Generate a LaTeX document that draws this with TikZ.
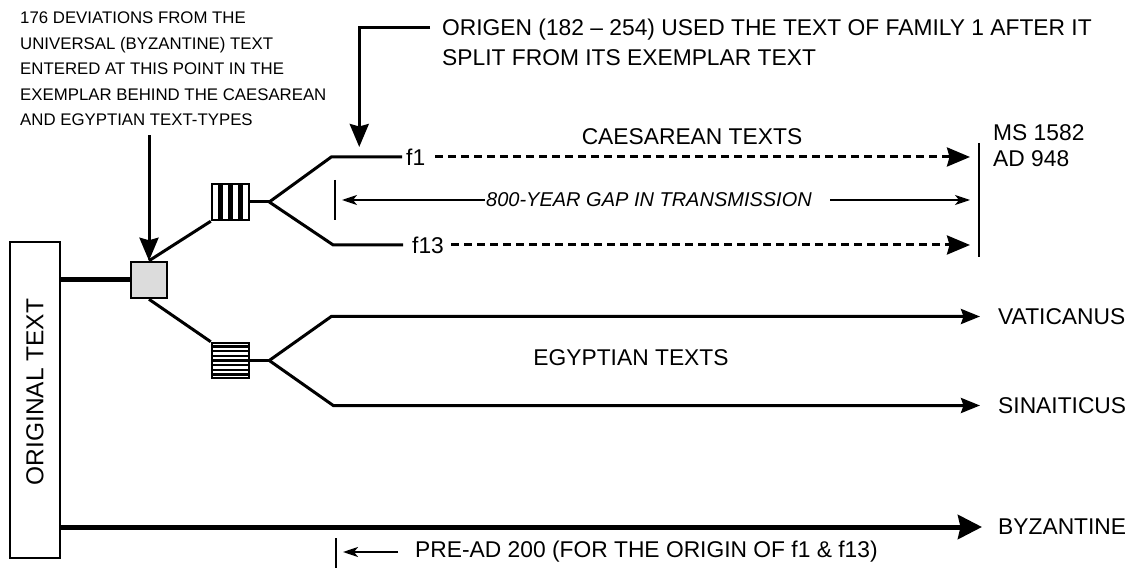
\documentclass[tikz,border=0pt]{standalone}
\usepackage{fontspec}
\setmainfont{Liberation Sans}
\usepackage{tikz}
\usetikzlibrary{arrows.meta,positioning,calc}
\definecolor{boxgrey}{HTML}{DCDCDC}

\begin{document}
\begin{tikzpicture}[x=1pt, y=-1pt,
  lbl/.style={font=\fontsize{22.8}{26}\selectfont, inner sep=0pt},
  note/.style={font=\fontsize{16.8}{25.5}\selectfont, inner sep=0pt, align=left},
  branch/.style={line width=3pt},
  trunk/.style={line width=5pt},
  dashline/.style={line width=3pt, dash pattern=on 8pt off 5pt},
  gapline/.style={line width=1.2pt},
  bigtip/.style={-{Stealth[length=23pt,width=19pt,inset=2.5pt]}},
  midtip/.style={-{Stealth[length=19pt,width=15pt,inset=2.5pt]}},
  bytip/.style={-{Stealth[length=24pt,width=24pt,inset=2.5pt]}},
  smalltip/.style={-{Stealth[length=15pt,width=10pt,inset=4pt]}},
  stripebox/.style={draw, fill=white, line width=2.5pt, minimum width=37pt, inner sep=0pt}]
\useasboundingbox (0,0) rectangle (1130,569);

% ---- original text, the exemplar and the two striped text-type boxes ----
\node[draw, line width=2.5pt, rotate=90, minimum width=316pt, minimum height=50pt,
  inner sep=0pt, font=\fontsize{24.5}{28}\selectfont] (orig) at (35,400) {\hspace*{16pt}ORIGINAL TEXT};
\node[draw, fill=boxgrey, line width=2.5pt, minimum size=36pt, inner sep=0pt] (exem) at (149,280) {};
\node[stripebox, minimum height=36pt] (caes) at (230.5,202) {};
\node[stripebox, minimum height=35pt] (egyp) at (230.5,360.5) {};
\foreach \k in {1,2,3}
  \draw[line width=4.5pt] ($(caes.south west)!\k/4!(caes.south east)$) -- ($(caes.north west)!\k/4!(caes.north east)$);
\foreach \k in {1,...,7}
  \draw[line width=2.5pt] ($(egyp.north west)!\k/8!(egyp.south west)$) -- ($(egyp.north east)!\k/8!(egyp.south east)$);

\draw[trunk] (orig.south |- exem.west) -- (exem.west);
\draw[branch] (exem.north) -- (caes.south west);
\draw[branch] (exem.south) -- (egyp.north west);
\coordinate[right=19pt of caes.east] (cfork);
\coordinate[right=19pt of egyp.east] (efork);
\draw[branch] (caes.east) -- (cfork);
\draw[branch] (egyp.east) -- (efork);

% ---- annotations above ----
\node[note, anchor=north west] (dev) at (20,12)
  {176 DEVIATIONS FROM THE\\UNIVERSAL (BYZANTINE) TEXT\\ENTERED AT THIS POINT IN THE\\EXEMPLAR BEHIND THE CAESAREAN\\AND EGYPTIAN TEXT-TYPES};
\draw[branch, bigtip] ([yshift=-9pt]exem.north |- dev.south) -- (exem.north);

\node[lbl, anchor=north west, align=left, font=\fontsize{22.8}{30}\selectfont] (origen) at (442,19)
  {ORIGEN (182 – 254) USED THE TEXT OF FAMILY 1 AFTER IT\\SPLIT FROM ITS EXEMPLAR TEXT};
\draw[branch, bigtip, shorten >=10pt] ([shift={(-12pt,-9pt)}]origen.north west) -| ($(cfork)+(90,-45)$);

% ---- caesarean texts ----
\node[lbl] (caestxt) at (692,137) {CAESAREAN TEXTS};
\node[lbl, anchor=west] (f1) at (406,157) {f1};
\node[lbl, anchor=west] (f13) at (412,245) {f13};
\coordinate (bartop) at (979,143);
\coordinate (barbot) at (979,257);
\draw[line width=2.5pt] (bartop) -- (barbot);
\node[lbl, anchor=north west, align=left] (ms) at (993,124) {MS 1582\\AD 948};

\draw[branch] (cfork) -- ++(62,-45) -- ([xshift=-4pt]f1.west);
\draw[branch] (cfork) -- ++(64,43) -- ([xshift=-9pt]f13.west);
\draw[dashline, bigtip] ([xshift=10pt]f1.east) -- ([xshift=-9pt]f1.east -| bartop);
\draw[dashline, bigtip] ([xshift=7pt]f13.east) -- ([xshift=-9pt]f13.east -| bartop);

\node[lbl, font=\fontsize{20}{24}\selectfont\itshape] (gap) at (649,200) {800-YEAR GAP IN TRANSMISSION};
\coordinate (gaptick) at (335,200);
\draw[gapline] ([yshift=20pt]gaptick) -- ([yshift=-20pt]gaptick);
\draw[gapline, smalltip] ([xshift=-1pt]gap.west) -- ([xshift=7pt]gaptick);
\draw[gapline, smalltip] ([xshift=18pt]gap.east) -- ([xshift=-9pt]gap.east -| bartop);

% ---- egyptian texts ----
\node[lbl] (egtxt) at (631,358) {EGYPTIAN TEXTS};
\node[lbl, anchor=west] (vat) at (998,316.5) {VATICANUS};
\node[lbl, anchor=west] (sin) at (998,405.5) {SINAITICUS};
\draw[branch, midtip] (efork) -- ++(62,-44) -- ([xshift=-18pt]vat.west);
\draw[branch, midtip] (efork) -- ++(64,45) -- ([xshift=-18pt]sin.west);

% ---- byzantine trunk ----
\node[lbl, anchor=west] (byz) at (998,527) {BYZANTINE};
\draw[trunk, bytip] (orig.south |- byz.west) -- ([xshift=-16pt]byz.west);

\node[lbl, anchor=west] (pre) at (415,552) {PRE-AD 200 (FOR THE ORIGIN OF f1 \& f13)};
\coordinate (pretick) at (336,552);
\draw[line width=1.8pt] ([yshift=14pt]pretick) -- ([yshift=-16pt]pretick);
\draw[line width=2.2pt, smalltip] ([xshift=-17pt]pre.west) -- ([xshift=7pt]pretick);
\end{tikzpicture}
\end{document}
